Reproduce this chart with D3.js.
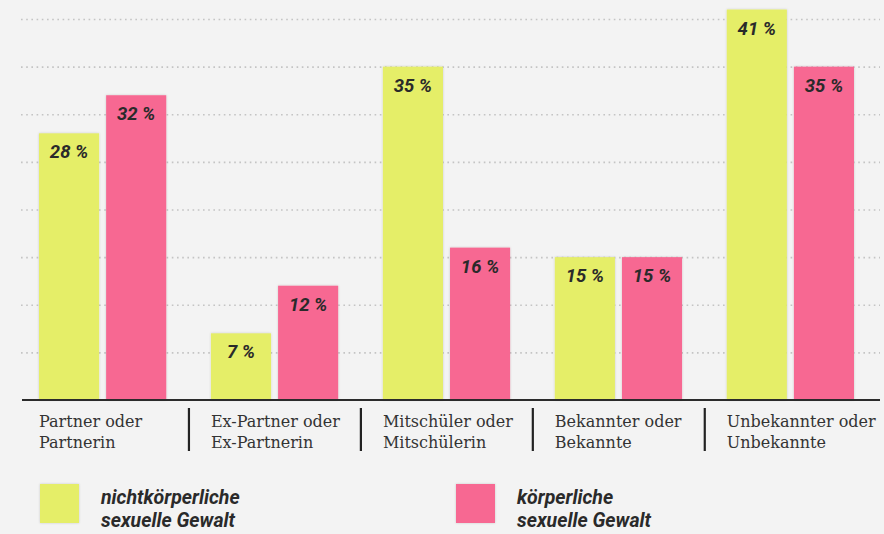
<!DOCTYPE html>
<html>
<head>
<meta charset="utf-8">
<script src="https://cdn.jsdelivr.net/npm/d3@7"></script>
<style>
  html, body { margin: 0; padding: 0; background: #f3f3f3; }
  svg { display: block; }
  .grid line { stroke: #c4c4c4; stroke-width: 1.6; stroke-dasharray: 1.6 3.6; }
  .cat-label { font-family: "DejaVu Serif", serif; font-size: 16px; fill: #333; }
  .value-label { font-family: Roboto, sans-serif; font-weight: 700; font-style: italic; font-size: 18.5px; fill: #2a2a2a; }
  .legend-label { font-family: Roboto, sans-serif; font-weight: 700; font-style: italic; font-size: 19.5px; fill: #2a2a2a; }
</style>
</head>
<body>
<div id="chart"></div>
<script>
// categories (two lines each), series values in %, grid ticks
const categories = ["Partner oder Partnerin", "Ex-Partner oder Ex-Partnerin", "Mitschüler oder Mitschülerin",
  "Bekannter oder Bekannte", "Unbekannter oder Unbekannte"];
const categoryLines = [["Partner oder", "Partnerin"], ["Ex-Partner oder", "Ex-Partnerin"],
  ["Mitschüler oder", "Mitschülerin"], ["Bekannter oder", "Bekannte"], ["Unbekannter oder", "Unbekannte"]];
const nichtkoerperlich = [28, 7, 35, 15, 41];
const koerperlich = [32, 12, 16, 15, 35];
const seriesKeys = ["nicht", "koerp"];
const seriesNames = [["nichtkörperliche", "sexuelle Gewalt"], ["körperliche", "sexuelle Gewalt"]];
const seriesColors = ["#e5ee68", "#f76892"];
const gridTicks = [5, 10, 15, 20, 25, 30, 35, 40];

const width = 884, height = 534;
const baseline = 400;

const svg = d3.select("#chart").append("svg")
  .attr("width", width)
  .attr("height", height);

// scales
const x0 = d3.scaleBand()
  .domain(categories)
  .range([39, 854])
  .paddingInner(0.26)
  .paddingOuter(0);

const x1 = d3.scaleBand()
  .domain(seriesKeys)
  .range([0, x0.bandwidth()])
  .paddingInner(0.105);

const y = d3.scaleLinear()
  .domain([0, 42])
  .range([baseline, 0]);

const color = d3.scaleOrdinal().domain(seriesKeys).range(seriesColors);

// dotted grid lines
const yGrid = d3.axisLeft(y)
  .tickValues(gridTicks)
  .tickSize(-(880 - 21))
  .tickFormat("");

svg.append("g")
  .attr("class", "grid")
  .attr("transform", "translate(21,0)")
  .call(yGrid)
  .call(g => g.select(".domain").remove());

// shadow for bars
const defs = svg.append("defs");
const filter = defs.append("filter").attr("id", "shadow")
  .attr("x", "-20%").attr("y", "-5%").attr("width", "140%").attr("height", "110%");
filter.append("feDropShadow")
  .attr("dx", 0).attr("dy", 0).attr("stdDeviation", 1.2)
  .attr("flood-color", "#000").attr("flood-opacity", 0.18);

const rows = categories.map((c, i) => ({
  cat: c,
  values: [
    {key: "nicht", value: nichtkoerperlich[i]},
    {key: "koerp", value: koerperlich[i]}
  ]
}));

const groups = svg.selectAll(".group")
  .data(rows)
  .enter().append("g")
  .attr("class", "group")
  .attr("transform", d => "translate(" + x0(d.cat) + ",0)");

groups.selectAll("rect")
  .data(d => d.values)
  .enter().append("rect")
  .attr("x", d => x1(d.key))
  .attr("y", d => y(d.value))
  .attr("width", x1.bandwidth())
  .attr("height", d => baseline - y(d.value))
  .attr("fill", d => color(d.key))
  .attr("filter", "url(#shadow)");

groups.selectAll(".value-label")
  .data(d => d.values)
  .enter().append("text")
  .attr("class", "value-label")
  .attr("x", d => x1(d.key) + x1.bandwidth() / 2)
  .attr("y", d => y(d.value) + 25)
  .attr("text-anchor", "middle")
  .text(d => d.value + " %");

// baseline
svg.append("line")
  .attr("x1", 22).attr("x2", 880)
  .attr("y1", baseline).attr("y2", baseline)
  .attr("stroke", "#2b2b2b")
  .attr("stroke-width", 2);

// category labels
const labels = svg.selectAll(".cat-label")
  .data(categories)
  .enter().append("text")
  .attr("class", "cat-label")
  .attr("x", d => x0(d))
  .attr("y", 427);

labels.selectAll("tspan")
  .data((d, i) => categoryLines[i])
  .enter().append("tspan")
  .attr("x", function() { return this.parentNode.getAttribute("x"); })
  .attr("dy", (d, i) => i === 0 ? 0 : 21)
  .text(d => d);

// separators between categories
svg.selectAll(".sep")
  .data(categories.slice(1))
  .enter().append("line")
  .attr("class", "sep")
  .attr("x1", d => x0(d) - 22)
  .attr("x2", d => x0(d) - 22)
  .attr("y1", 408).attr("y2", 451)
  .attr("stroke", "#222")
  .attr("stroke-width", 2.2);

// legend
const legend = svg.selectAll(".legend")
  .data(seriesKeys)
  .enter().append("g")
  .attr("class", "legend")
  .attr("transform", (d, i) => "translate(" + (i === 0 ? 40 : 456) + ",484)");

legend.append("rect")
  .attr("width", 39)
  .attr("height", 39)
  .attr("fill", d => color(d))
  .attr("filter", "url(#shadow)");

legend.append("text")
  .attr("class", "legend-label")
  .attr("y", 20)
  .selectAll("tspan")
  .data((d, i) => seriesNames[i])
  .enter().append("tspan")
  .attr("x", 61)
  .attr("dy", (d, i) => i === 0 ? 0 : 23)
  .text(d => d);
</script>
</body>
</html>
